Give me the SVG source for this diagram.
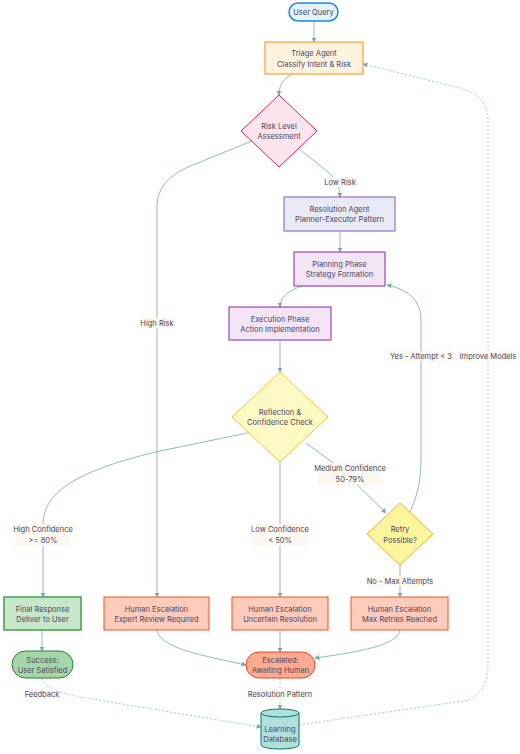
<svg xmlns="http://www.w3.org/2000/svg" width="520" height="754" viewBox="0 0 520 754">
<defs>
<marker id="arr" viewBox="0 0 10 10" refX="9" refY="5" markerWidth="5" markerHeight="5" orient="auto-start-reverse"><path d="M0,0 L10,5 L0,10 z" fill="#6fa7b3"/></marker>
<style>
text{font-family:Inter,"Liberation Sans",sans-serif;font-size:7.5px;fill:#4a4560;text-anchor:middle;dominant-baseline:central}
.e{fill:none;stroke:#8bbac4;stroke-width:1}
.d{fill:none;stroke:#9ccbd2;stroke-width:1;stroke-dasharray:2,2}
.lb{fill:#fdf8ef}
</style>
</defs>
<rect width="520" height="754" fill="#ffffff"/>
<g id="edges">
<path class="e" d="M314,21 L314,42" marker-end="url(#arr)"/>
<path class="e" d="M292,74 C282,80 279,86 279,95" marker-end="url(#arr)"/>
<path class="e" d="M298,148 L328,172 Q340,182 340,197" marker-end="url(#arr)"/>
<path class="e" d="M252,141 L188,167 Q158,180 157,205 L157,597" marker-end="url(#arr)"/>
<path class="e" d="M340,231 L340,252" marker-end="url(#arr)"/>
<path class="e" d="M302,286 C286,292 280,298 280,307" marker-end="url(#arr)"/>
<path class="e" d="M280,340 L280,372" marker-end="url(#arr)"/>
<path class="e" d="M257,431 L160,451 C70,472 43,495 43,525 L43,597" marker-end="url(#arr)"/>
<path class="e" d="M280,462 L280,597" marker-end="url(#arr)"/>
<path class="e" d="M306,443 L340,468 L386,513" marker-end="url(#arr)"/>
<path class="e" d="M410,512 Q421,490 421,460 L421,320 Q421,292 387,285" marker-end="url(#arr)"/>
<path class="e" d="M400,565 L400,597" marker-end="url(#arr)"/>
<path class="e" d="M42,630 L42,651" marker-end="url(#arr)"/>
<path class="e" d="M157,630 C160,648 200,655 246,665" marker-end="url(#arr)"/>
<path class="e" d="M280,630 L280,652" marker-end="url(#arr)"/>
<path class="e" d="M400,630 C398,645 360,652 315,658" marker-end="url(#arr)"/>
<path class="d" d="M42,678 C45,690 60,692 80,697 L261,727" marker-end="url(#arr)"/>
<path class="d" d="M280,678 L280,709" marker-end="url(#arr)"/>
<path class="d" d="M299,725 L470,700 Q488,690 488,665 L488,120 Q488,96 460,88 L363,64" marker-end="url(#arr)"/>
</g>
<g id="edge-labels">
<rect class="lb" x="324" y="177" width="32" height="10"/><text x="340" y="182">Low Risk</text>
<rect class="lb" x="140" y="318" width="34" height="10"/><text x="157" y="323">High Risk</text>
<rect class="lb" x="388" y="351" width="66" height="10"/><text x="421" y="356">Yes - Attempt &lt; 3</text>
<rect class="lb" x="460" y="351" width="56" height="10"/><text x="488" y="356">Improve Models</text>
<rect class="lb" x="318" y="463" width="64" height="22"/><text x="350" y="468">Medium Confidence</text><text x="350" y="479">50-79%</text>
<rect class="lb" x="15" y="524" width="55" height="22"/><text x="43" y="529">High Confidence</text><text x="43" y="540">&gt;= 80%</text>
<rect class="lb" x="253" y="524" width="54" height="22"/><text x="280" y="529">Low Confidence</text><text x="280" y="540">&lt; 50%</text>
<rect class="lb" x="368" y="576" width="64" height="10"/><text x="400" y="581">No - Max Attempts</text>
<rect class="lb" x="26" y="689" width="32" height="10"/><text x="42" y="694">Feedback</text>
<rect class="lb" x="250" y="689" width="61" height="10"/><text x="280" y="694">Resolution Pattern</text>
</g>
<g id="user-query"><rect x="289" y="3" width="49" height="18" rx="9" fill="#e3f2fd" stroke="#1e88e5" stroke-width="1.5"/><text x="313.5" y="12">User Query</text></g>
<g id="triage"><rect x="265" y="42" width="98" height="32" fill="#fff3e0" stroke="#fb8c00" stroke-width="1"/><text x="314" y="53">Triage Agent</text><text x="314" y="64">Classify Intent &amp; Risk</text></g>
<g id="risk"><polygon points="279,95 317,131 279,167 241,131" fill="#fce4ec" stroke="#d81b60" stroke-width="1"/><text x="279" y="126">Risk Level</text><text x="279" y="136">Assessment</text></g>
<g id="resolution"><rect x="284" y="197" width="111" height="34" fill="#e8eaf6" stroke="#7e57c2" stroke-width="1"/><text x="339.5" y="209">Resolution Agent</text><text x="339.5" y="219">Planner-Executor Pattern</text></g>
<g id="planning"><rect x="294" y="252" width="91" height="34" fill="#f3e5f5" stroke="#8e24aa" stroke-width="1"/><text x="339.5" y="264">Planning Phase</text><text x="339.5" y="274">Strategy Formation</text></g>
<g id="execution"><rect x="229" y="307" width="102" height="33" fill="#f3e5f5" stroke="#8e24aa" stroke-width="1"/><text x="280" y="319">Execution Phase</text><text x="280" y="329">Action Implementation</text></g>
<g id="reflection"><polygon points="280,372 328,417 280,462 232,417" fill="#fff9c4" stroke="#fbc02d" stroke-width="1"/><text x="280" y="412">Reflection &amp;</text><text x="280" y="422">Confidence Check</text></g>
<g id="retry"><polygon points="400,503 433,534 400,565 367,534" fill="#fff59d" stroke="#f9a825" stroke-width="1"/><text x="400" y="529">Retry</text><text x="400" y="540">Possible?</text></g>
<g id="final-response"><rect x="4" y="597" width="77" height="33" fill="#c8e6c9" stroke="#43a047" stroke-width="1.5"/><text x="42.5" y="609">Final Response</text><text x="42.5" y="619">Deliver to User</text></g>
<g id="expert"><rect x="104" y="597" width="105" height="33" fill="#ffccbc" stroke="#f4511e" stroke-width="1"/><text x="156.5" y="609">Human Escalation</text><text x="156.5" y="619">Expert Review Required</text></g>
<g id="uncertain"><rect x="232" y="597" width="96" height="33" fill="#ffccbc" stroke="#f4511e" stroke-width="1"/><text x="280" y="609">Human Escalation</text><text x="280" y="619">Uncertain Resolution</text></g>
<g id="max-retries"><rect x="351" y="597" width="97" height="33" fill="#ffccbc" stroke="#f4511e" stroke-width="1"/><text x="399.5" y="609">Human Escalation</text><text x="399.5" y="619">Max Retries Reached</text></g>
<g id="success"><rect x="12" y="651" width="61" height="27" rx="13.5" fill="#a5d6a7" stroke="#2e7d32" stroke-width="1"/><text x="42.5" y="660">Success:</text><text x="42.5" y="670">User Satisfied</text></g>
<g id="escalated"><rect x="246" y="652" width="69" height="26" rx="13" fill="#ffab91" stroke="#e64a19" stroke-width="1"/><text x="280.5" y="660">Escalated:</text><text x="280.5" y="670">Awaiting Human</text></g>
<g id="learning-db"><path d="M261,713 L261,745 A19,4 0 0 0 299,745 L299,713" fill="#b2dfdb" stroke="#00796b" stroke-width="1"/><ellipse cx="280" cy="713" rx="19" ry="4" fill="#b2dfdb" stroke="#00796b" stroke-width="1"/><text x="280" y="729">Learning</text><text x="280" y="739">Database</text></g>
</svg>
